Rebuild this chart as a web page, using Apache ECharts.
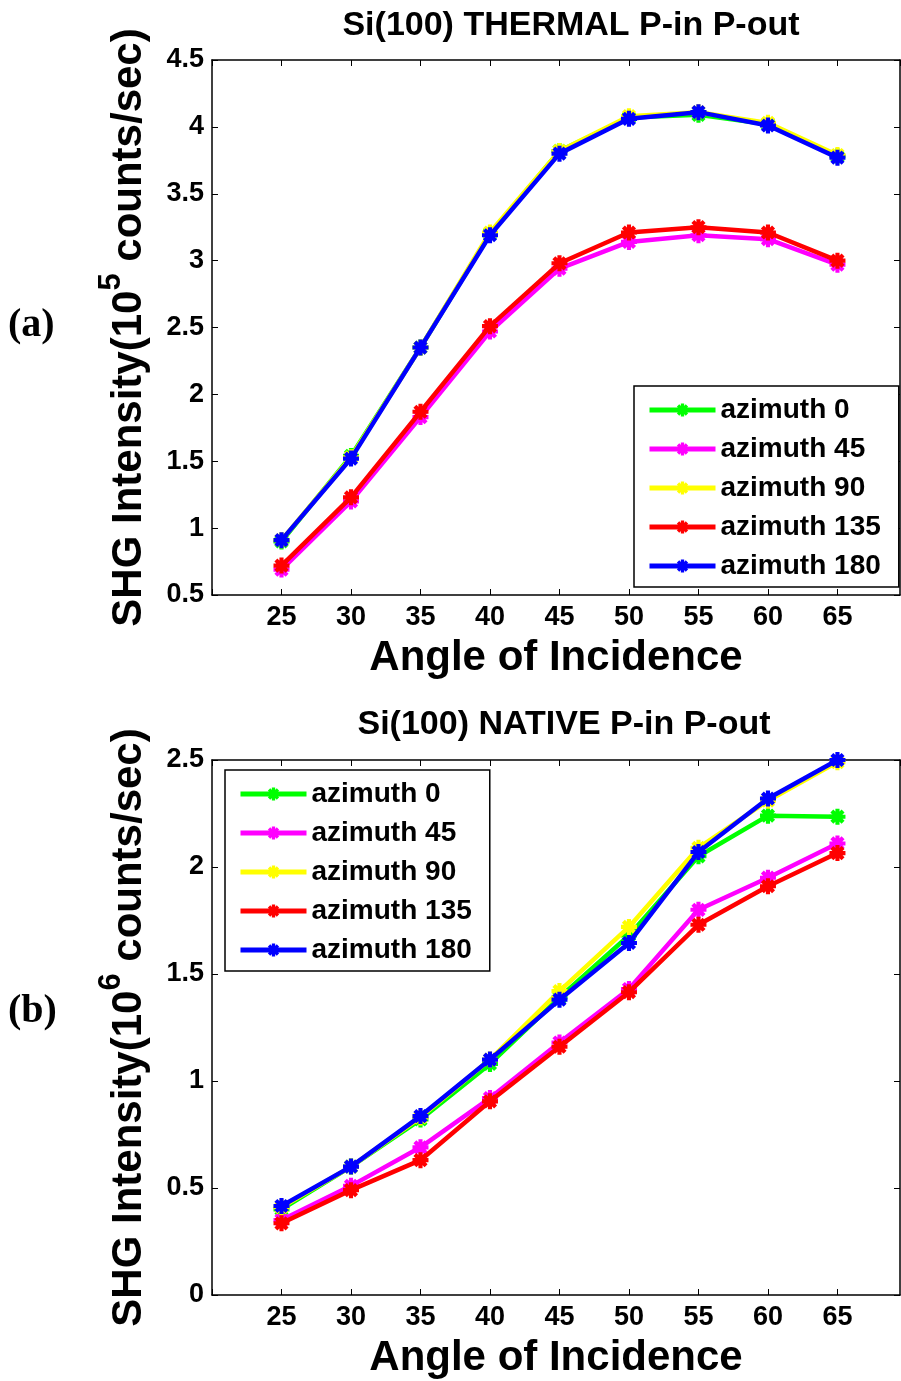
<!DOCTYPE html>
<html>
<head>
<meta charset="UTF-8">
<title></title>
<style>
  html, body { margin: 0; padding: 0; background: #fff; }
  #main { width: 901px; height: 1381px; }
</style>
</head>
<body>
<div id="main"></div>
<script src="https://cdn.jsdelivr.net/npm/echarts@6/dist/echarts.min.js"></script>
<script>
// data
var angles = [25, 30, 35, 40, 45, 50, 55, 60, 65];
var seriesNames = ['azimuth 0', 'azimuth 45', 'azimuth 90', 'azimuth 135', 'azimuth 180'];
var seriesColors = ['#00ff00', '#ff00ff', '#ffff00', '#ff0000', '#0000ff'];

// (a) thermal, 10^5 counts/sec
var thermal0   = [0.90, 1.54, 2.35, 3.20, 3.82, 4.07, 4.09, 4.02, 3.78];
var thermal45  = [0.69, 1.20, 1.83, 2.47, 2.94, 3.14, 3.19, 3.16, 2.97];
var thermal90  = [0.91, 1.53, 2.35, 3.21, 3.82, 4.08, 4.11, 4.03, 3.79];
var thermal135 = [0.72, 1.23, 1.87, 2.51, 2.98, 3.21, 3.25, 3.21, 3.00];
var thermal180 = [0.91, 1.52, 2.35, 3.19, 3.80, 4.06, 4.11, 4.01, 3.77];

// (b) native, 10^6 counts/sec
var native0   = [0.40, 0.60, 0.82, 1.08, 1.39, 1.68, 2.05, 2.24, 2.235];
var native45  = [0.35, 0.51, 0.69, 0.92, 1.18, 1.43, 1.80, 1.95, 2.11];
var native90  = [0.41, 0.60, 0.83, 1.10, 1.42, 1.72, 2.09, 2.31, 2.49];
var native135 = [0.335, 0.49, 0.63, 0.905, 1.16, 1.415, 1.73, 1.91, 2.065];
var native180 = [0.416, 0.60, 0.836, 1.10, 1.38, 1.645, 2.07, 2.32, 2.50];

var thermal = [thermal0, thermal45, thermal90, thermal135, thermal180];
var native = [native0, native45, native90, native135, native180];

var font = 'Liberation Sans, Arial, sans-serif';
var star = 'path://M-1.8 -7 L1.8 -7 L1.8 7 L-1.8 7 Z M-7 -1.8 L7 -1.8 L7 1.8 L-7 1.8 Z ' +
  'M-6.2 -3.6 L-3.6 -6.2 L6.2 3.6 L3.6 6.2 Z M3.6 -6.2 L6.2 -3.6 L-3.6 6.2 L-6.2 3.6 Z';

function xBottom(grid) {
  return {
    type: 'value', gridIndex: grid, position: 'bottom',
    min: 20, max: 69.5, interval: 5,
    name: 'Angle of Incidence', nameLocation: 'middle', nameGap: 42,
    nameTextStyle: { fontFamily: font, fontWeight: 'bold', fontSize: 42, color: '#000' },
    axisLine: { onZero: false, lineStyle: { color: '#000', width: 1.5 } },
    axisTick: { inside: true, length: 6, lineStyle: { color: '#000' } },
    axisLabel: {
      margin: 9, fontFamily: font, fontWeight: 'bold', fontSize: 27, color: '#000',
      showMaxLabel: false,
      formatter: function (v) { return (v >= 25 && v <= 65) ? String(v) : ''; }
    },
    splitLine: { show: false }
  };
}
function xTop(grid) {
  return {
    type: 'value', gridIndex: grid, position: 'top',
    min: 20, max: 69.5, interval: 5,
    axisLine: { onZero: false, lineStyle: { color: '#000', width: 1.5 } },
    axisTick: { inside: true, length: 6, lineStyle: { color: '#000' } },
    axisLabel: { show: false },
    splitLine: { show: false }
  };
}
function yLeft(grid, min, max, exp) {
  return {
    type: 'value', gridIndex: grid, position: 'left',
    min: min, max: max, interval: 0.5,
    name: '{a|SHG Intensity(10}{s|' + exp + '}{a| counts/sec)}',
    nameLocation: 'middle', nameGap: 62, nameRotate: 90,
    nameTextStyle: {
      rich: {
        a: { fontFamily: font, fontWeight: 'bold', fontSize: 42, color: '#000', lineHeight: 54, verticalAlign: 'bottom' },
        s: { fontFamily: font, fontWeight: 'bold', fontSize: 31, color: '#000', lineHeight: 31, verticalAlign: 'top' }
      }
    },
    axisLine: { onZero: false, lineStyle: { color: '#000', width: 1.5 } },
    axisTick: { inside: true, length: 6, lineStyle: { color: '#000' } },
    axisLabel: { margin: 8, fontFamily: font, fontWeight: 'bold', fontSize: 27, color: '#000' },
    splitLine: { show: false }
  };
}
function yRight(grid, min, max) {
  return {
    type: 'value', gridIndex: grid, position: 'right',
    min: min, max: max, interval: 0.5,
    axisLine: { onZero: false, lineStyle: { color: '#000', width: 1.5 } },
    axisTick: { inside: true, length: 6, lineStyle: { color: '#000' } },
    axisLabel: { show: false },
    splitLine: { show: false }
  };
}

function makeSeries(sets, xi, yi) {
  return sets.map(function (vals, i) {
    return {
      type: 'line', name: seriesNames[i],
      xAxisIndex: xi, yAxisIndex: yi,
      data: angles.map(function (a, k) { return [a, vals[k]]; }),
      symbol: star, symbolSize: 16,
      color: seriesColors[i],
      lineStyle: { width: 4.5, color: seriesColors[i] },
      itemStyle: { color: seriesColors[i] },
      emphasis: { disabled: true },
      z: 2 + i
    };
  });
}

var legendText = { fontFamily: font, fontWeight: 'bold', fontSize: 28, color: '#000', lineHeight: 30 };
function legendAt(left, top) {
  return {
    orient: 'vertical', left: left, top: top, padding: [9, 18, 6, 13], itemGap: 9,
    itemWidth: 66, itemHeight: 16, borderColor: '#000', borderWidth: 1.5, backgroundColor: '#fff',
    lineStyle: { width: 5 }, itemStyle: { borderWidth: 0 },
    data: seriesNames, textStyle: legendText, selectedMode: false
  };
}

var chart = echarts.init(document.getElementById('main'));
chart.setOption({
  animation: false,
  backgroundColor: '#fff',
  title: [
    { text: 'Si(100) THERMAL P-in P-out', left: 566, top: 4, textAlign: 'center',
      textStyle: { fontFamily: font, fontWeight: 'bold', fontSize: 34, color: '#000' } },
    { text: 'Si(100) NATIVE P-in P-out', left: 559, top: 703, textAlign: 'center',
      textStyle: { fontFamily: font, fontWeight: 'bold', fontSize: 34, color: '#000' } }
  ],
  grid: [
    { left: 212, top: 60, width: 688, height: 535 },
    { left: 212, top: 760, width: 688, height: 535 }
  ],
  xAxis: [xBottom(0), xTop(0), xBottom(1), xTop(1)],
  yAxis: [yLeft(0, 0.5, 4.5, 5), yRight(0, 0.5, 4.5), yLeft(1, 0, 2.5, 6), yRight(1, 0, 2.5)],
  legend: [legendAt(634, 386), legendAt(225, 770)],
  graphic: [
    { type: 'text', left: 8, top: 306, style: { text: '(a)', font: 'bold 40px "Liberation Serif", "Times New Roman", serif', fill: '#000' } },
    { type: 'text', left: 8, top: 992, style: { text: '(b)', font: 'bold 40px "Liberation Serif", "Times New Roman", serif', fill: '#000' } }
  ],
  series: makeSeries(thermal, 0, 0).concat(makeSeries(native, 2, 2))
});
</script>
</body>
</html>
